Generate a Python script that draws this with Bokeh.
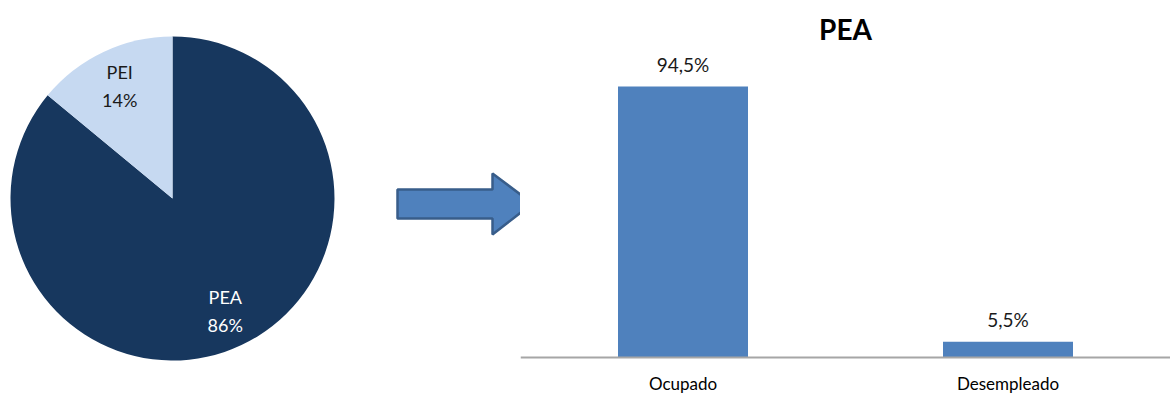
import numpy as np
from bokeh.plotting import figure
from bokeh.layouts import row
from bokeh.models import Range1d, FactorRange, ColumnDataSource, Span
from bokeh.core.properties import value
from bokeh.embed import file_html
from bokeh.resources import INLINE

# Population split: economically active (PEA) vs inactive (PEI)
pie_labels = ["PEA", "PEI"]
pie_shares = [86, 14]
pie_colors = ["#17375E", "#C6D9F1"]
pie_text_colors = ["#FFFFFF", "#1A1A1A"]

# Breakdown of the active population
bar_categories = ["Ocupado", "Desempleado"]
bar_values = [94.5, 5.5]
bar_title = "PEA"

FONT = "Lato"
H = 395

# ---------------- left panel: pie + arrow ----------------
left = figure(width=520, height=H, output_backend="svg", toolbar_location=None,
              x_range=Range1d(0, 520), y_range=Range1d(0, H),
              min_border=0, outline_line_color=None)
left.axis.visible = False
left.grid.visible = False

cx, cy, r = 172, 197, 162
# PEI starts at 12 o'clock and runs counter-clockwise; PEA fills the rest
total = sum(pie_shares)
start_pei = np.pi / 2
end_pei = start_pei + 2 * np.pi * pie_shares[1] / total
end_pea = end_pei + 2 * np.pi * pie_shares[0] / total
wedges = ColumnDataSource(dict(
    start=[end_pei, start_pei],
    end=[end_pea, end_pei],
    color=pie_colors,
))
left.wedge(x=cx, y=cy, radius=r, start_angle="start", end_angle="end",
           fill_color="color", line_color=None, source=wedges)

# slice labels placed along each slice's mid-angle: name above, share below
mids = [(end_pei + end_pea) / 2, (start_pei + end_pei) / 2]
for lab, share, mid, tc in zip(pie_labels, pie_shares, mids, pie_text_colors):
    lx = cx + 0.765 * r * np.cos(mid)
    ly = cy + 0.765 * r * np.sin(mid)
    for txt, off in ((lab, -14), (f"{share}%", 14)):
        left.text(x=[lx], y=[ly], text=[txt], y_offset=off, text_align="center",
                  text_baseline="middle", text_font=value(FONT),
                  text_font_size="18px", text_color=tc)

# block arrow pointing to the bar chart
ax = [397, 492, 492, 532, 492, 492, 397]
ay = [H - 189, H - 189, H - 173, H - 203, H - 234, H - 218, H - 218]
left.patch(ax, ay, fill_color="#4F81BD", line_color="#385D8A", line_width=2.5)

# ---------------- right panel: bar chart ----------------
AXIS_PX = 357       # baseline position from the top of the panel
TOP_PX = 86         # top of the tallest bar
TITLE_PX = 28       # title centre
scale = (AXIS_PX - TOP_PX) / max(bar_values)   # pixels per percentage point
y_start = -(H - AXIS_PX) / scale
y_end = AXIS_PX / scale

src = ColumnDataSource(dict(cat=bar_categories, val=bar_values,
                            zero=[0] * len(bar_values),
                            lab=[f"{v:.1f}%".replace(".", ",") for v in bar_values]))
right = figure(width=650, height=H, output_backend="svg", toolbar_location=None,
               x_range=FactorRange(*bar_categories, range_padding=0),
               y_range=Range1d(y_start, y_end),
               min_border=0, outline_line_color=None)
right.axis.visible = False
right.grid.visible = False

right.vbar(x="cat", top="val", width=0.4, fill_color="#4F81BD",
           line_color=None, source=src)
# value labels above bars
right.text(x="cat", y="val", text="lab", source=src, y_offset=-11,
           text_align="center", text_baseline="bottom",
           text_font=value(FONT), text_font_size="19px", text_color="#1A1A1A")
# baseline
right.add_layout(Span(location=0, dimension="width", line_color="#A6A6A6",
                      line_width=2))
# category labels under the baseline
right.text(x="cat", y="zero", text="cat", source=src, y_offset=26,
           text_align="center", text_baseline="middle",
           text_font=value(FONT), text_font_size="17px", text_color="#000000")
# chart title, centred over both categories
right.text(x=[len(bar_categories) / 2], y=[(AXIS_PX - TITLE_PX) / scale],
           text=[bar_title], text_align="center", text_baseline="middle",
           text_font=value(FONT), text_font_size="28px",
           text_font_style="bold", text_color="#000000")

layout = row(left, right, spacing=0)
open("out.html", "w").write(file_html(layout, INLINE))
